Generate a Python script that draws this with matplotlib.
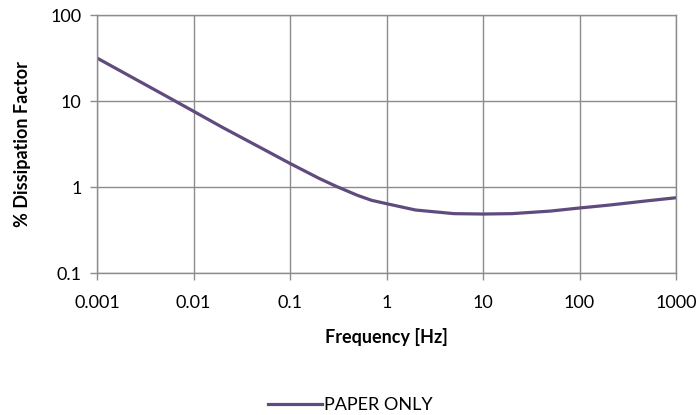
import matplotlib.pyplot as plt
from matplotlib.ticker import FixedLocator, FixedFormatter, NullLocator

plt.rcParams['font.family'] = ['Lato', 'DejaVu Sans']

# Дані
freq = [0.001, 0.002, 0.005, 0.01, 0.02, 0.05, 0.1, 0.2, 0.3, 0.5, 0.7, 1, 2, 5, 10, 20, 50, 100, 200, 500, 1000]
dissipation = [31.6, 20.6, 11.7, 7.6, 4.93, 2.85, 1.88, 1.26, 1.02, 0.8, 0.7, 0.64, 0.54, 0.49, 0.485, 0.49,
               0.525, 0.57, 0.615, 0.69, 0.75]

x_ticks = [0.001, 0.01, 0.1, 1, 10, 100, 1000]
x_labels = ['0.001', '0.01', '0.1', '1', '10', '100', '1000']
y_ticks = [0.1, 1, 10, 100]
y_labels = ['0.1', '1', '10', '100']

fig = plt.figure(figsize=(7, 4.15), dpi=100)
ax = fig.add_axes([97 / 700, 1 - 273 / 415, (676 - 97) / 700, (273 - 15) / 415])

grid_col = '#8c8c8c'
ax.plot(freq, dissipation, color='#5f4b7d', lw=2.3, label='PAPER ONLY')
ax.set_xscale('log')
ax.set_yscale('log')
ax.set_xlim(0.001, 1000)
ax.set_ylim(0.1, 100)

ax.xaxis.set_major_locator(FixedLocator(x_ticks))
ax.xaxis.set_major_formatter(FixedFormatter(x_labels))
ax.xaxis.set_minor_locator(NullLocator())
ax.yaxis.set_major_locator(FixedLocator(y_ticks))
ax.yaxis.set_major_formatter(FixedFormatter(y_labels))
ax.yaxis.set_minor_locator(NullLocator())

ax.grid(True, color=grid_col, lw=1)
ax.set_axisbelow(True)
for s in ax.spines.values():
    s.set_color(grid_col)
    s.set_linewidth(1)
ax.tick_params(axis='both', colors=grid_col, labelcolor='black', labelsize=13, length=5, width=1)
ax.tick_params(axis='x', pad=11)
ax.tick_params(axis='y', pad=6)

ax.set_xlabel('Frequency [Hz]', fontsize=13, fontweight='bold', labelpad=12)
ax.set_ylabel('% Dissipation Factor', fontsize=13, fontweight='bold', labelpad=14)

fig.legend(loc='lower center', bbox_to_anchor=(0.5, -0.035), frameon=False, fontsize=13,
           handlelength=3, handletextpad=0.1)

fig.savefig('out.png', dpi=100)
